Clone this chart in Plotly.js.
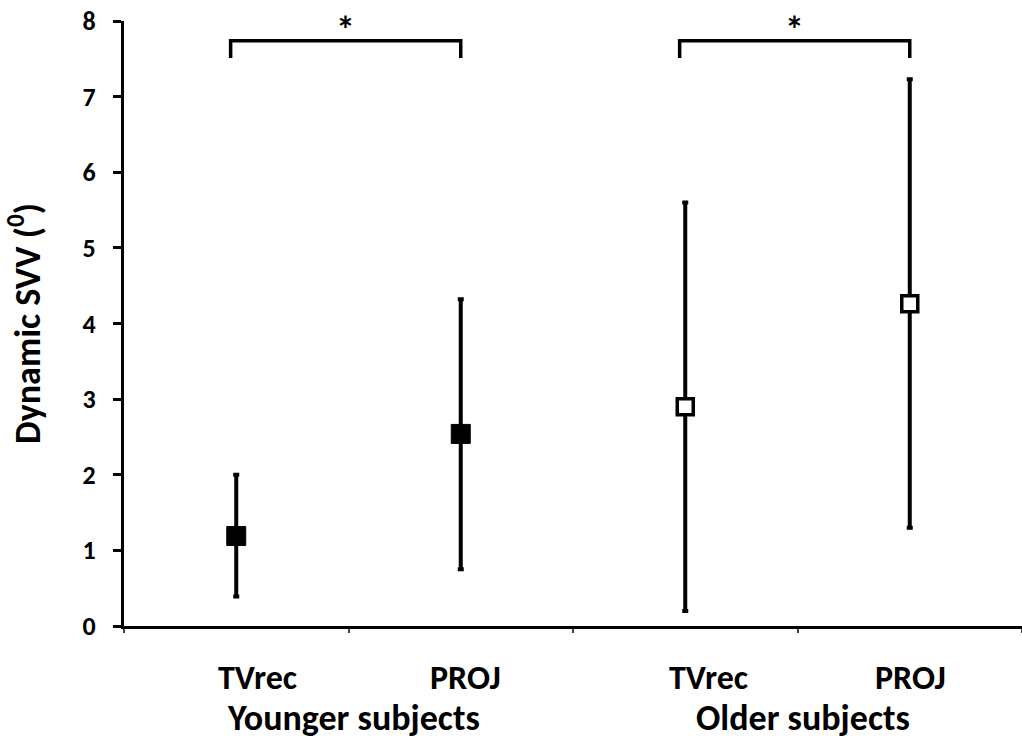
<!DOCTYPE html>
<html><head><meta charset="utf-8">
<script src="https://cdn.plot.ly/plotly-3.0.1.min.js"></script>
<style>html,body{margin:0;padding:0;background:#fff}#chart{width:1022px;height:740px}</style>
</head><body><div id="chart"></div>
<script>
const conditions = ["TVrec", "PROJ", "TVrec", "PROJ"];
const groups = ["Younger subjects", "Older subjects"];
const youngMean = [1.19, 2.54];
const youngHigh = [2.0, 4.32];
const youngLow = [0.39, 0.75];
const oldMean = [2.90, 4.26];
const oldHigh = [5.60, 7.23];
const oldLow = [0.20, 1.30];
const bracketLevel = 7.74;
const bracketLeg = 7.51;
const sigMark = ["*", "*"];

const FONT = "Carlito, 'Open Sans', sans-serif";
const labelShift = [21, 5, 23, 1];

function trace(xs, mean, hi, lo, fill) {
  return {
    type: "scatter", mode: "markers", x: xs, y: mean,
    error_y: {type: "data", symmetric: false,
      array: mean.map((m, i) => hi[i] - m),
      arrayminus: mean.map((m, i) => m - lo[i]),
      color: "#000", thickness: 4, width: 3},
    marker: {symbol: "square", size: fill === "#000" ? 19 : 16, color: fill,
      line: {color: "#000", width: fill === "#000" ? 1 : 3.5}},
    showlegend: false, hoverinfo: "skip"
  };
}

const data = [
  trace([0, 1], youngMean, youngHigh, youngLow, "#000"),
  trace([2, 3], oldMean, oldHigh, oldLow, "#fff")
];

const shapes = [];
const annotations = [];
conditions.forEach((c, i) => {
  annotations.push({xref: "x", yref: "paper", x: i, y: 0, yanchor: "middle",
    yshift: -51, xshift: labelShift[i], text: "<b>" + c + "</b>", showarrow: false,
    font: {family: FONT, size: 34, color: "#000"}});
});
[[0, 1], [2, 3]].forEach((pair, gi) => {
  const x0 = pair[0] - 0.025, x1 = pair[1];
  shapes.push({type: "path", xref: "x", yref: "y",
    path: `M ${x0} ${bracketLeg} L ${x0} ${bracketLevel} L ${x1} ${bracketLevel} L ${x1} ${bracketLeg}`,
    line: {color: "#000", width: 3.5}});
  annotations.push({xref: "x", yref: "y", x: (x0 + x1) / 2, y: bracketLevel, yanchor: "bottom",
    text: "<b>" + sigMark[gi] + "</b>", showarrow: false, yshift: -14,
    font: {family: FONT, size: 38, color: "#000"}});
  annotations.push({xref: "x", yref: "paper", x: (pair[0] + pair[1]) / 2, y: 0, yanchor: "middle",
    yshift: -92, xshift: 5, text: "<b>" + groups[gi] + "</b>", showarrow: false,
    font: {family: FONT, size: 36, color: "#000"}, borderpad: 0});
});

const layout = {
  width: 1022, height: 740,
  margin: {l: 124, r: 0, t: 21, b: 114},
  paper_bgcolor: "#fff", plot_bgcolor: "#fff",
  font: {family: FONT, color: "#000"},
  xaxis: {range: [-0.5, 3.5], tickvals: [0, 1, 2, 3], showticklabels: false,
    ticks: "", showgrid: false, zeroline: false, showline: true,
    linecolor: "#000", linewidth: 3,
    minor: {tick0: 0.5, dtick: 1, ticks: "outside", ticklen: 4, tickwidth: 2, tickcolor: "#444", showgrid: false},
    fixedrange: true},
  yaxis: {range: [0, 8], dtick: 1, ticks: "outside", ticklen: 8, tickwidth: 3,
    tickcolor: "#000", showgrid: false, zeroline: false, showline: true,
    linecolor: "#000", linewidth: 3,
    tickfont: {family: FONT, size: 26, color: "#000"}, tickprefix: "<b>", ticksuffix: "</b>",
    ticklabelstandoff: 12,
    title: {text: "<b>Dynamic SVV (<sup>0</sup>)</b>", font: {family: FONT, size: 36, color: "#000"}, standoff: 32},
    fixedrange: true},
  shapes: shapes,
  annotations: annotations
};

Plotly.newPlot("chart", data, layout, {displayModeBar: false, staticPlot: true});
</script></body></html>
